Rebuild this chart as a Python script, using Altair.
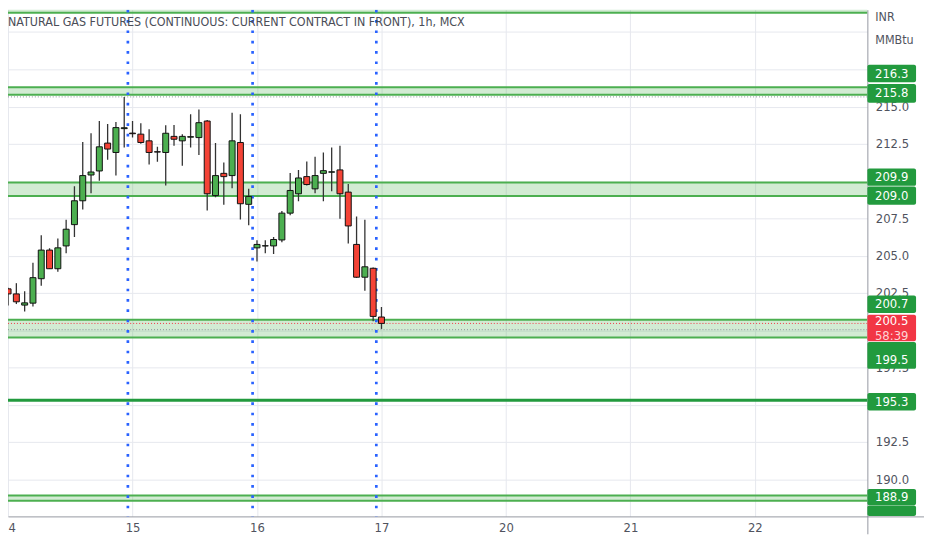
import json
import altair as alt
import pandas as pd

# ---------------- data ----------------
opens = [202.77, 202.43, 201.68, 201.81, 203.45, 205.37, 204.12, 205.65, 207.08, 208.68,
         210.41, 210.68, 212.55, 211.92, 213.52, 213.22, 213.15, 212.70, 211.97, 211.92,
         213.00, 212.70, 212.95, 212.92, 214.03, 209.03, 210.52, 210.37, 212.59, 208.44,
         205.52, 205.65, 205.65, 206.05, 207.85, 209.15, 210.30, 209.48, 210.52, 210.60,
         210.75, 209.26, 205.75, 203.55, 204.15, 200.88]
highs = [202.85, 203.15, 202.60, 204.52, 206.37, 205.50, 206.15, 207.41, 209.65, 212.63,
         213.21, 214.03, 213.83, 213.97, 215.65, 214.03, 213.88, 213.48, 212.30, 213.75,
         213.77, 213.15, 214.48, 214.81, 214.10, 212.55, 211.25, 214.59, 214.48, 209.48,
         206.03, 206.03, 206.25, 208.00, 210.55, 210.75, 211.32, 211.63, 211.92, 212.25,
         212.37, 209.81, 207.63, 207.41, 204.20, 201.55]
lows = [201.65, 201.75, 201.25, 201.59, 202.97, 204.10, 203.92, 205.15, 206.25, 208.10,
        209.19, 210.03, 211.43, 210.37, 212.25, 212.92, 212.50, 211.12, 211.30, 209.70,
        212.37, 211.03, 212.25, 211.75, 208.03, 208.92, 208.41, 209.52, 207.43, 207.03,
        204.60, 205.15, 205.10, 205.90, 207.70, 208.65, 209.70, 209.19, 208.65, 209.32,
        207.48, 205.81, 203.50, 202.65, 200.59, 200.08]
closes = [202.43, 201.90, 201.83, 203.52, 205.37, 204.12, 205.52, 206.77, 208.68, 210.37,
          210.61, 212.30, 212.15, 213.59, 213.58, 213.18, 212.59, 211.92, 211.95, 213.21,
          212.81, 213.00, 212.98, 213.92, 209.15, 210.37, 210.30, 212.70, 208.48, 208.97,
          205.75, 205.66, 206.08, 207.85, 209.37, 210.21, 209.77, 210.37, 210.70, 210.62,
          209.15, 206.99, 203.55, 204.25, 200.92, 200.45]

day_ticks = [0, 15, 30, 45, 60, 75, 90]
day_labels = ["14", "15", "16", "17", "20", "21", "22"]
session_marks = [14.44, 29.47, 44.38]

y_ticks = [190.0, 192.5, 195.0, 197.5, 200.0, 202.5, 205.0, 207.5, 210.0,
           212.5, 215.0, 217.5, 220.0]
hidden_ticks = [195.0, 200.0, 210.0, 220.0]   # covered by price tags / unit labels

zone_low = [221.3, 215.8, 209.0, 199.5, 188.55]
zone_high = [222.6, 216.3, 209.9, 200.7, 188.9]
support_line = [195.3]
dotted_gray = [215.65, 200.03]
last_price = 200.45
last_text = "200.5"
countdown = "58:39"

tag_values = [216.3, 215.8, 209.9, 209.0, 200.7, 199.5, 195.3, 188.9]
tag_texts = ["216.3", "215.8", "209.9", "209.0", "200.7", "199.5", "195.3", "188.9"]

title_text = "NATURAL GAS FUTURES (CONTINUOUS: CURRENT CONTRACT IN FRONT), 1h, MCX"
units = ["INR", "MMBtu"]

# ---------------- styling ----------------
W, H = 865, 510
FONT = "Liberation Sans Narrow, DejaVu Sans Condensed, sans-serif"
GREEN = "#4caf50"
RED = "#f44336"
TAG_GREEN = "#229a3e"
TEXT_GRAY = "#50535e"
GRID = "#e6e8ee"
AXIS_GRAY = "#9598a1"

# (center shift px, half height px, text shift px)
tag_style = [(-13.75, 8.75, -13.75), (-1.25, 9.5, -1.25), (-5.4, 8.7, -5.4), (-0.4, 9.2, -0.4),
             (-15.5, 8.8, -15.5), (18.0, 13.5, 23.0), (1.5, 8.8, 1.5), (1.5, 8.2, 1.5)]
unit_y = [7, 31]

xs = alt.Scale(domain=[0.5917, 102.96], nice=False, zero=False)
ys = alt.Scale(domain=[187.5, 221.5], nice=False, zero=False)

x_axis = alt.Axis(
    values=day_ticks,
    labelExpr=f"{json.dumps(day_labels)}[indexof({json.dumps(day_ticks)}, datum.value)]",
    grid=True, gridColor=GRID, gridWidth=1, ticks=False, labelFlush=False,
    domainColor=AXIS_GRAY, labelColor=TEXT_GRAY, labelFont=FONT, labelFontSize=13,
    labelPadding=5, title=None,
)
y_axis = alt.Axis(
    orient="right", values=y_ticks,
    labelExpr=f"indexof({json.dumps(hidden_ticks)}, datum.value) >= 0 ? '' : format(datum.value, '.1f')",
    grid=True, gridColor=GRID, gridWidth=1, ticks=False,
    domainColor=AXIS_GRAY, labelColor=TEXT_GRAY, labelFont=FONT, labelFontSize=13,
    labelPadding=8, labelAlign="left", title=None,
)


def X(field):
    return alt.X(field, scale=xs, axis=x_axis)


def Y(field):
    return alt.Y(field, scale=ys, axis=y_axis)


candles = pd.DataFrame({
    "i": list(range(len(opens))),
    "open": opens, "high": highs, "low": lows, "close": closes,
})
candles["dir"] = ["up" if c >= o else "down" for o, c in zip(opens, closes)]

layers = []

# base layer carrying both axes
layers.append(
    alt.Chart(candles).mark_rule(opacity=0).encode(x=X("i:Q"), y=Y("low:Q"))
)
# axis lines continued into the corner, as in the reference
layers.append(
    alt.Chart(pd.DataFrame({"a": [0]})).mark_rule(color=AXIS_GRAY, strokeWidth=1).encode(
        x=alt.value(W), x2=alt.value(W + 57), y=alt.value(H + 0.5))
)
layers.append(
    alt.Chart(pd.DataFrame({"a": [0]})).mark_rule(color=AXIS_GRAY, strokeWidth=1).encode(
        x=alt.value(W + 0.5), y=alt.value(H), y2=alt.value(H + 18))
)
# zones
zones = pd.DataFrame({"lo": zone_low, "hi": zone_high})
layers.append(
    alt.Chart(zones).mark_rect(color=GREEN, opacity=0.25, clip=True).encode(
        y=Y("lo:Q"), y2="hi:Q", x=alt.value(0), x2=alt.value(W))
)
zone_lines = pd.DataFrame({"v": zone_low + zone_high})
layers.append(
    alt.Chart(zone_lines).mark_rule(color=GREEN, strokeWidth=2, clip=True).encode(y=Y("v:Q"))
)
layers.append(
    alt.Chart(pd.DataFrame({"v": support_line})).mark_rule(
        color=TAG_GREEN, strokeWidth=3, clip=True).encode(y=Y("v:Q"))
)
layers.append(
    alt.Chart(pd.DataFrame({"v": dotted_gray})).mark_rule(
        color="#8a8e99", strokeWidth=1, strokeDash=[1, 2], clip=True).encode(y=Y("v:Q"))
)
layers.append(
    alt.Chart(pd.DataFrame({"v": [last_price]})).mark_rule(
        color="#f23645", strokeWidth=1, strokeDash=[1, 2], clip=True).encode(y=Y("v:Q"))
)
# session separators
layers.append(
    alt.Chart(pd.DataFrame({"s": session_marks})).mark_rule(
        color="#2962ff", strokeWidth=2.7, strokeDash=[2.7, 7.7], clip=True).encode(x=X("s:Q"))
)
# wicks
layers.append(
    alt.Chart(candles).mark_rule(color="#333333", strokeWidth=1.3, clip=True).encode(
        x=X("i:Q"), y=Y("low:Q"), y2="high:Q")
)
# bodies
layers.append(
    alt.Chart(candles).mark_bar(width=6, stroke="#111111", strokeWidth=1, clip=True).encode(
        x=X("i:Q"), y=Y("open:Q"), y2="close:Q",
        color=alt.Color("dir:N", scale=alt.Scale(domain=["up", "down"], range=[GREEN, RED]), legend=None))
)
# title
layers.append(
    alt.Chart(pd.DataFrame({"t": [title_text]})).mark_text(
        align="left", baseline="middle", font=FONT, fontSize=12.5, color="#4a4d57").encode(
        x=alt.value(0), y=alt.value(12), text="t:N")
)
# units
for u, uy in zip(units, unit_y):
    layers.append(
        alt.Chart(pd.DataFrame({"t": [u]})).mark_text(
            align="left", baseline="middle", font=FONT, fontSize=12.5, color=TEXT_GRAY).encode(
            x=alt.value(W + 8), y=alt.value(uy), text="t:N")
    )
# price tags
for v, t, (shift, half, tshift) in zip(tag_values, tag_texts, tag_style):
    d = pd.DataFrame({"v": [v], "t": [t]})
    layers.append(
        alt.Chart(d).mark_rect(color=TAG_GREEN, cornerRadius=2,
                               yOffset=shift - half, y2Offset=shift + half).encode(
            x=alt.value(W), x2=alt.value(W + 49), y=Y("v:Q"), y2="v:Q")
    )
    layers.append(
        alt.Chart(d).mark_text(align="center", baseline="middle", font=FONT, fontSize=13,
                               color="white", dy=tshift).encode(
            x=alt.value(W + 24.5), y=Y("v:Q"), text="t:N")
    )
# partially hidden tag at the bottom
layers.append(
    alt.Chart(pd.DataFrame({"v": [188.6]})).mark_rect(color=TAG_GREEN, cornerRadius=2,
                                                       yOffset=5.5, y2Offset=16).encode(
        x=alt.value(W), x2=alt.value(W + 49), y=Y("v:Q"), y2="v:Q")
)
# current price tag
dlast = pd.DataFrame({"v": [last_price], "t": [last_text], "c": [countdown]})
layers.append(
    alt.Chart(dlast).mark_rect(color="#f23645", cornerRadius=2,
                               yOffset=4.6 - 13.4, y2Offset=4.6 + 13.4).encode(
        x=alt.value(W), x2=alt.value(W + 49), y=Y("v:Q"), y2="v:Q")
)
layers.append(
    alt.Chart(dlast).mark_text(align="center", baseline="middle", font=FONT, fontSize=13,
                               color="white", dy=-2).encode(
        x=alt.value(W + 24.5), y=Y("v:Q"), text="t:N")
)
layers.append(
    alt.Chart(dlast).mark_text(align="center", baseline="middle", font=FONT, fontSize=13,
                               color="#fdd5d5", dy=13).encode(
        x=alt.value(W + 24.5), y=Y("v:Q"), text="c:N")
)

chart = alt.layer(*layers).properties(
    width=W, height=H,
    autosize=alt.AutoSizeParams(type="none"),
    padding={"left": 0, "top": 0, "right": 57, "bottom": 18},
).configure_view(stroke=None)

chart.save("out.html", embed_options={"renderer": "svg", "actions": False})
